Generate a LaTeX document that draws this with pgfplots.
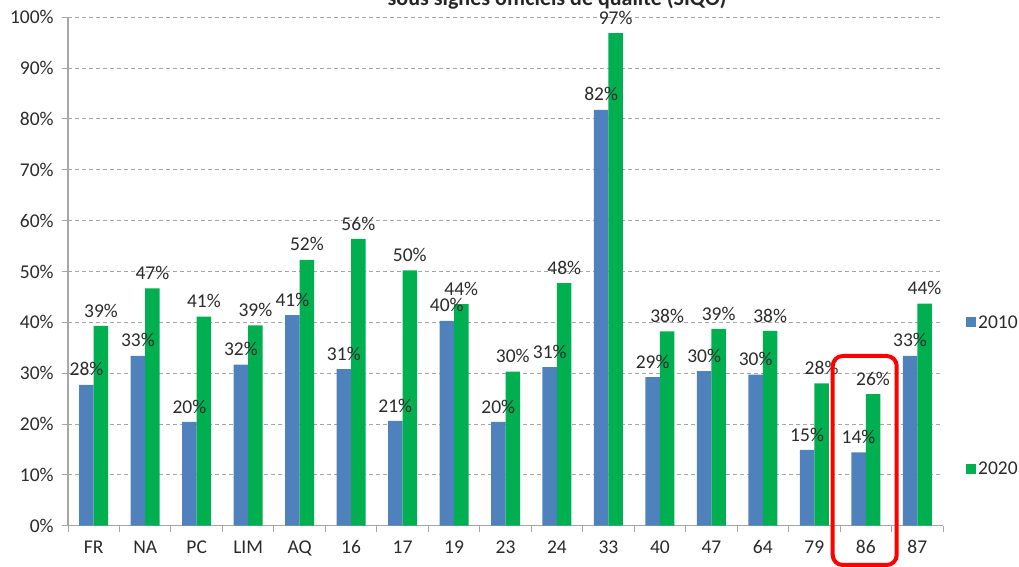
\documentclass[border=0pt]{standalone}
\usepackage{fontspec}
\setmainfont{Carlito}
\usepackage{pgfplots}
\pgfplotsset{compat=1.18}
\definecolor{bleu}{HTML}{4F81BD}
\definecolor{vert}{HTML}{00B050}
\definecolor{axe}{HTML}{A6A6A6}
\definecolor{texte}{HTML}{2B2B2B}

\begin{document}
\begin{tikzpicture}[x=1pt,y=1pt]
\begin{axis}[
    at={(68pt,41.3pt)}, anchor=south west,
    scale only axis, width=875pt, height=508.4pt,
    ybar=0pt, bar width=14.5pt,
    xmin=-0.5, xmax=16.5, ymin=0, ymax=100,
    axis x line=bottom, axis y line=left,
    axis line style={draw=axe, line width=1.2pt, -},
    tick align=outside,
    major tick length=6pt, minor tick length=6pt,
    tick style={draw=axe, line width=1pt},
    xtick={0,...,16},
    xticklabels={FR,NA,PC,LIM,AQ,16,17,19,23,24,33,40,47,64,79,86,87},
    major x tick style={draw=none},
    minor xtick={-0.5,0.5,...,16.5},
    ytick={0,10,...,100},
    yticklabels={0\%,10\%,20\%,30\%,40\%,50\%,60\%,70\%,80\%,90\%,100\%},
    ymajorgrids,
    major grid style={draw=axe, line width=1pt, dash pattern=on 4pt off 3pt},
    ticklabel style={font=\fontsize{19.5}{22}\selectfont, text=texte},
    xticklabel style={yshift=-5.4pt},
    yticklabel style={xshift=-4.8pt},
    /pgf/number format/assume math mode=true,
    nodes near coords={\pgfmathprintnumber[fixed,precision=0]{\pgfplotspointmeta}\%},
    nodes near coords style={font=\fontsize{19.5}{22}\selectfont, text=texte, yshift=5.2pt},
    legend style={at={(1,0.256)}, anchor=west, xshift=20pt, draw=none, fill=none,
        font=\fontsize{19.5}{22}\selectfont, text=texte, row sep=128pt},
    clip=false,
]
\addplot[fill=bleu, draw=none, legend image code/.code={\fill[bleu] (0pt,-5pt) rectangle (10pt,5pt);}] coordinates {
    (0,27.7) (1,33.4) (2,20.4) (3,31.7) (4,41.4) (5,30.8) (6,20.6) (7,40.3) (8,20.4)
    (9,31.2) (10,81.8) (11,29.2) (12,30.4) (13,29.7) (14,14.9) (15,14.4) (16,33.4)
};
\addplot[fill=vert, draw=none, legend image code/.code={\fill[vert] (0pt,-5pt) rectangle (10pt,5pt);}] coordinates {
    (0,39.3) (1,46.7) (2,41.1) (3,39.4) (4,52.3) (5,56.4) (6,50.2) (7,43.6) (8,30.3)
    (9,47.7) (10,96.9) (11,38.2) (12,38.7) (13,38.3) (14,28.0) (15,25.9) (16,43.7)
};
\legend{2010,2020}
\end{axis}
\node[anchor=base, font=\fontsize{22}{26}\selectfont\bfseries, text=black!85] at (557,561) {sous signes officiels de qualité (SIQO)};
\draw[red, line width=4pt, rounded corners=10pt] (832.7,2) rectangle (896.7,211);
\pgfresetboundingbox
\useasboundingbox (0,0) rectangle (1019,567);
\end{tikzpicture}
\end{document}
